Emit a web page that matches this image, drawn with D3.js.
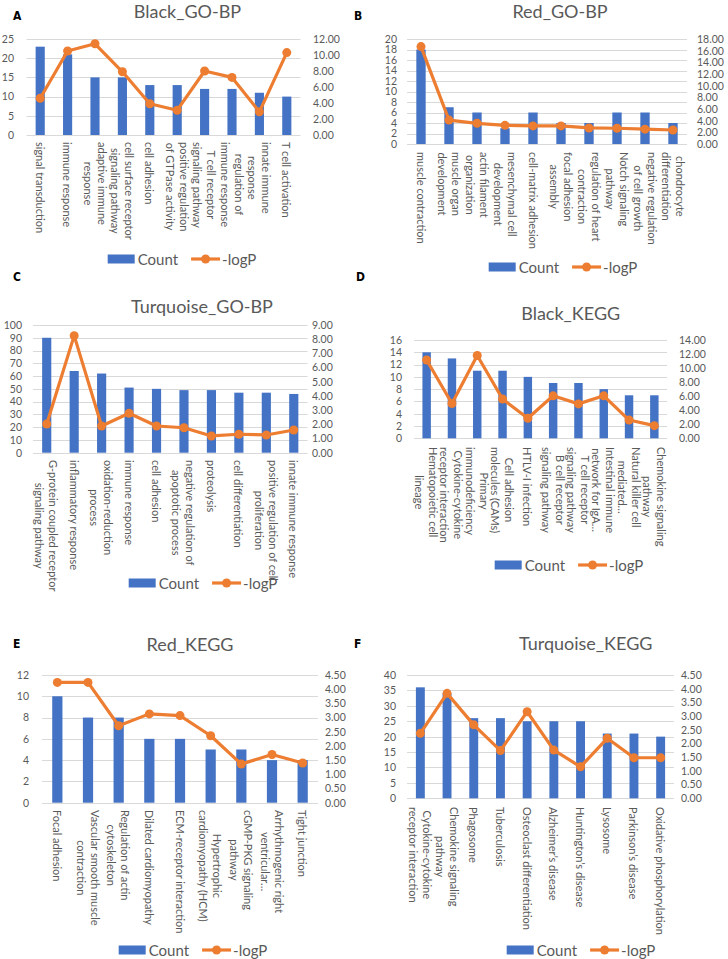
<!DOCTYPE html>
<html lang="en">
<head>
<meta charset="utf-8">
<title>GO-BP and KEGG enrichment of modules</title>
<script src="https://cdn.jsdelivr.net/npm/d3@7"></script>
<style>
  body { margin: 0; background: #fff; }
  svg text { font-family: Lato, "Liberation Sans", sans-serif; fill: #595959; }
  svg text.letter { font-family: "Liberation Sans Narrow", "DejaVu Sans Condensed", sans-serif; font-stretch: condensed; font-weight: bold; fill: #000; }
</style>
</head>
<body>
<div id="chart"></div>
<script>
// A - Black_GO-BP
var aCats = ["signal transduction", "immune response", "adaptive immune\nresponse", "cell surface receptor\nsignaling pathway",
  "cell adhesion", "positive regulation\nof GTPase activity", "T cell receptor\nsignaling pathway", "regulation of\nimmune response",
  "innate immune\nresponse", "T cell activation"];
var aCount = [23, 21, 15, 15, 13, 13, 12, 12, 11, 10];
var aLogP = [4.6, 10.5, 11.4, 7.9, 3.9, 3.1, 8.0, 7.2, 2.9, 10.3];
var aCountTicks = [0, 5, 10, 15, 20, 25];
var aLogTicks = [0, 2, 4, 6, 8, 10, 12];

// B - Red_GO-BP
var bCats = ["muscle contraction", "muscle organ\ndevelopment", "actin filament\norganization", "mesenchymal cell\ndevelopment",
  "cell-matrix adhesion", "focal adhesion\nassembly", "regulation of heart\ncontraction", "Notch signaling\npathway",
  "negative regulation\nof cell growth", "chondrocyte\ndifferentiation"];
var bCount = [18, 7, 6, 3, 6, 4, 4, 6, 6, 4];
var bLogP = [16.7, 4.1, 3.55, 3.2, 3.1, 3.1, 2.75, 2.7, 2.55, 2.4];
var bCountTicks = [0, 2, 4, 6, 8, 10, 12, 14, 16, 18, 20];
var bLogTicks = [0, 2, 4, 6, 8, 10, 12, 14, 16, 18];

// C - Turquoise_GO-BP
var cCats = ["G-protein coupled receptor\nsignaling pathway", "inflammatory response", "oxidation-reduction\nprocess",
  "immune response", "cell adhesion", "negative regulation of\napoptotic process", "proteolysis", "cell differentiation",
  "positive regulation of cell\nproliferation", "innate immune response"];
var cCount = [90, 64, 62, 51, 50, 49, 49, 47, 47, 46];
var cLogP = [2.02, 8.25, 1.88, 2.78, 1.88, 1.76, 1.18, 1.30, 1.25, 1.60];
var cCountTicks = [0, 10, 20, 30, 40, 50, 60, 70, 80, 90, 100];
var cLogTicks = [0, 1, 2, 3, 4, 5, 6, 7, 8, 9];

// D - Black_KEGG
var dCats = ["Hematopoietic cell\nlineage", "Cytokine-cytokine\nreceptor interaction", "Primary\nimmunodeficiency",
  "Cell adhesion\nmolecules (CAMs)", "HTLV-I infection", "B cell receptor\nsignaling pathway", "T cell receptor\nsignaling pathway",
  "Intestinal immune\nnetwork for IgA…", "Natural killer cell\nmediated…", "Chemokine signaling\npathway"];
var dCount = [14, 13, 11, 11, 10, 9, 9, 8, 7, 7];
var dLogP = [11.15, 4.95, 11.8, 5.6, 2.85, 6.05, 4.9, 6.05, 2.6, 1.8];
var dCountTicks = [0, 2, 4, 6, 8, 10, 12, 14, 16];
var dLogTicks = [0, 2, 4, 6, 8, 10, 12, 14];

// E - Red_KEGG
var eCats = ["Focal adhesion", "Vascular smooth muscle\ncontraction", "Regulation of actin\ncytoskeleton", "Dilated cardiomyopathy",
  "ECM-receptor interaction", "Hypertrophic\ncardiomyopathy (HCM)", "cGMP-PKG signaling\npathway",
  "Arrhythmogenic right\nventricular…", "Tight junction"];
var eCount = [10, 8, 8, 6, 6, 5, 5, 4, 4];
var eLogP = [4.24, 4.24, 2.71, 3.13, 3.07, 2.36, 1.36, 1.70, 1.40];
var eCountTicks = [0, 2, 4, 6, 8, 10, 12];
var eLogTicks = [0, 0.5, 1, 1.5, 2, 2.5, 3, 3.5, 4, 4.5];

// F - Turquoise_KEGG
var fCats = ["Cytokine-cytokine\nreceptor interaction", "Chemokine signaling\npathway", "Phagosome", "Tuberculosis",
  "Osteoclast differentiation", "Alzheimer’s disease", "Huntington’s disease", "Lysosome", "Parkinson’s disease",
  "Oxidative phosphorylation"];
var fCount = [36, 34, 26, 26, 25, 25, 25, 21, 21, 20];
var fLogP = [2.37, 3.83, 2.68, 1.74, 3.16, 1.76, 1.15, 2.19, 1.48, 1.48];
var fCountTicks = [0, 5, 10, 15, 20, 25, 30, 35, 40];
var fLogTicks = [0, 0.5, 1, 1.5, 2, 2.5, 3, 3.5, 4, 4.5];

var legendNames = ["Count", "-logP"];
var blue = "#4472C4", orange = "#ED7D31", grid = "#D9D9D9";

var panels = [
  {letter: "A", lx: 13, ly: 20, title: "Black_GO-BP", tx: 187.5, ty: 18, cats: aCats, count: aCount, logP: aLogP,
    countTicks: aCountTicks, logTicks: aLogTicks, x0: 26.5, x1: 300.5, yTop: 39, yBot: 135, leftX: 14, rightX: 313,
    labelTop: 142, legX: 182, legY: 259},
  {letter: "B", lx: 354, ly: 20, title: "Red_GO-BP", tx: 560, ty: 18, cats: bCats, count: bCount, logP: bLogP,
    countTicks: bCountTicks, logTicks: bLogTicks, x0: 407, x1: 687, yTop: 39, yBot: 144, leftX: 397, rightX: 697,
    labelTop: 152, legX: 563, legY: 267},
  {letter: "C", lx: 13, ly: 281, title: "Turquoise_GO-BP", tx: 202, ty: 313, cats: cCats, count: cCount, logP: cLogP,
    countTicks: cCountTicks, logTicks: cLogTicks, x0: 33, x1: 307.5, yTop: 325, yBot: 452.7, leftX: 22, rightX: 312,
    labelTop: 460, legX: 203, legY: 583},
  {letter: "D", lx: 356, ly: 281, title: "Black_KEGG", tx: 570.7, ty: 320, cats: dCats, count: dCount, logP: dLogP,
    countTicks: dCountTicks, logTicks: dLogTicks, x0: 414, x1: 667, yTop: 340, yBot: 438.3, leftX: 402, rightX: 679,
    labelTop: 447, legX: 569, legY: 565},
  {letter: "E", lx: 13, ly: 648, title: "Red_KEGG", tx: 190, ty: 651, cats: eCats, count: eCount, logP: eLogP,
    countTicks: eCountTicks, logTicks: eLogTicks, x0: 42, x1: 318, yTop: 675, yBot: 802.7, leftX: 29, rightX: 325,
    labelTop: 810, legX: 193, legY: 950},
  {letter: "F", lx: 354, ly: 648, title: "Turquoise_KEGG", tx: 585.7, ty: 650, cats: fCats, count: fCount, logP: fLogP,
    countTicks: fCountTicks, logTicks: fLogTicks, x0: 407, x1: 674, yTop: 675, yBot: 798.3, leftX: 396, rightX: 681,
    labelTop: 807, legX: 581, legY: 950}
];

var svg = d3.select("#chart").append("svg")
  .attr("width", 728)
  .attr("height", 959);

var drawPanel = function(p) {
  var g = svg.append("g");
  var n = p.cats.length;
  var x = d3.scaleBand().domain(d3.range(n)).range([p.x0, p.x1]);
  var bw = x.bandwidth();
  var yL = d3.scaleLinear().domain([0, d3.max(p.countTicks)]).range([p.yBot, p.yTop]);
  var yR = d3.scaleLinear().domain([0, d3.max(p.logTicks)]).range([p.yBot, p.yTop]);

  // gridlines follow the primary axis
  g.selectAll(".grid").data(p.countTicks).enter().append("line")
    .attr("x1", p.x0).attr("x2", p.x1)
    .attr("y1", function(d) { return Math.round(yL(d)) + 0.5; })
    .attr("y2", function(d) { return Math.round(yL(d)) + 0.5; })
    .attr("stroke", grid).attr("stroke-width", 1);

  var left = g.append("g").attr("transform", "translate(" + p.leftX + ",0)")
    .call(d3.axisLeft(yL).tickValues(p.countTicks).tickSize(0).tickPadding(0));
  left.select(".domain").remove();
  left.attr("font-size", 10.5);

  var right = g.append("g").attr("transform", "translate(" + p.rightX + ",0)")
    .call(d3.axisRight(yR).tickValues(p.logTicks).tickSize(0).tickPadding(0).tickFormat(d3.format(".2f")));
  right.select(".domain").remove();
  right.attr("font-size", 10.5);

  // bars
  g.selectAll(".bar").data(p.count).enter().append("rect")
    .attr("x", function(d, i) { return x(i) + bw / 3; })
    .attr("width", bw / 3)
    .attr("y", function(d) { return yL(d); })
    .attr("height", function(d) { return p.yBot - yL(d); })
    .attr("fill", blue);

  // -logP line
  var line = d3.line()
    .x(function(d, i) { return x(i) + bw / 2; })
    .y(function(d) { return yR(d); });
  g.append("path").datum(p.logP)
    .attr("d", line)
    .attr("fill", "none").attr("stroke", orange)
    .attr("stroke-width", 3.2).attr("stroke-linejoin", "round");
  g.selectAll(".pt").data(p.logP).enter().append("circle")
    .attr("cx", function(d, i) { return x(i) + bw / 2; })
    .attr("cy", function(d) { return yR(d); })
    .attr("r", 4.5)
    .attr("fill", orange);

  // rotated category labels, wrapped lines centred on the longest
  var lh = 14;
  p.cats.forEach(function(c, i) {
    var lines = c.split("\n");
    var lg = g.append("g")
      .attr("transform", "translate(" + (x(i) + bw / 2) + "," + p.labelTop + ") rotate(90)");
    var texts = lg.selectAll("text").data(lines).enter().append("text")
      .attr("font-size", 11)
      .attr("text-anchor", "middle")
      .attr("dominant-baseline", "central")
      .attr("y", function(d, k) { return (k - (lines.length - 1) / 2) * lh; })
      .text(function(d) { return d; });
    var maxLen = 0;
    texts.each(function() { maxLen = Math.max(maxLen, this.getComputedTextLength()); });
    texts.attr("x", maxLen / 2);
  });

  // title
  g.append("text")
    .attr("x", p.tx).attr("y", p.ty)
    .attr("text-anchor", "middle")
    .attr("font-size", 18)
    .text(p.title);

  // panel letter
  g.append("text").attr("class", "letter")
    .attr("x", p.lx).attr("y", p.ly)
    .attr("font-size", 12)
    .text(p.letter);

  // legend
  var leg = g.append("g");
  var t1 = leg.append("text").attr("font-size", 15).attr("dominant-baseline", "central").text(legendNames[0]);
  var t2 = leg.append("text").attr("font-size", 15).attr("dominant-baseline", "central").text(legendNames[1]);
  var w1 = t1.node().getComputedTextLength(), w2 = t2.node().getComputedTextLength();
  var total = 27 + 3 + w1 + 13 + 29 + 2 + w2;
  var sx = p.legX - total / 2;
  leg.append("rect").attr("x", sx).attr("y", p.legY - 4.5).attr("width", 27).attr("height", 9).attr("fill", blue);
  t1.attr("x", sx + 30).attr("y", p.legY);
  var lx = sx + 30 + w1 + 13;
  leg.append("line").attr("x1", lx).attr("x2", lx + 29).attr("y1", p.legY).attr("y2", p.legY)
    .attr("stroke", orange).attr("stroke-width", 3.2);
  leg.append("circle").attr("cx", lx + 14.5).attr("cy", p.legY).attr("r", 4.5).attr("fill", orange);
  t2.attr("x", lx + 31).attr("y", p.legY);
};

panels.forEach(drawPanel);
</script>
</body>
</html>
